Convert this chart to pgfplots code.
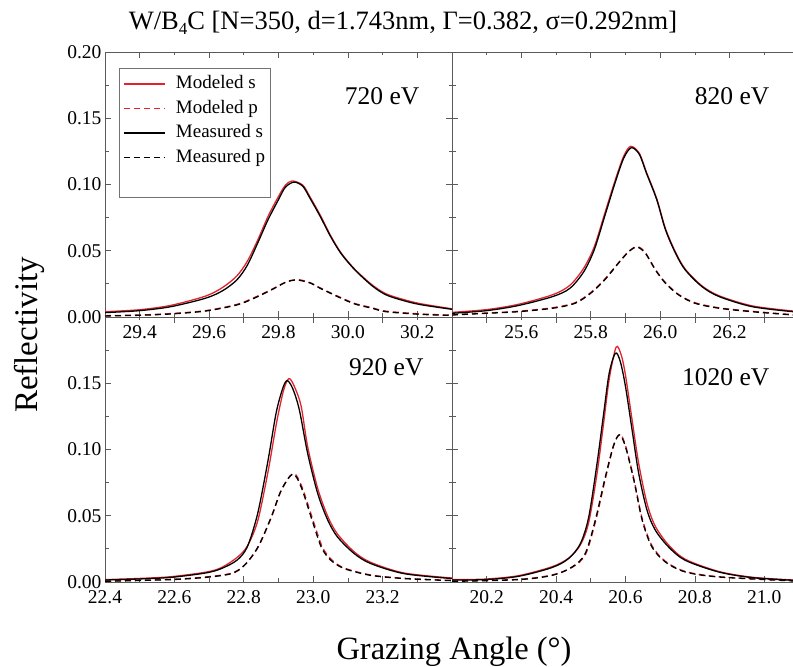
\documentclass[border=0pt]{standalone}
\usepackage{fontspec}
\setmainfont{Liberation Serif}
\usepackage{pgfplots}
\pgfplotsset{compat=1.18}

\definecolor{modred}{RGB}{226,35,45}
\definecolor{frame}{RGB}{90,90,90}

\tikzset{
  elabel/.style={anchor=base east, font=\fontsize{25.5}{25.5}\selectfont},
  modS/.style={color=modred, line width=1.3pt},
  modP/.style={color=modred, line width=1.3pt, dash pattern=on 6pt off 4pt},
  meaS/.style={color=black, line width=1.3pt},
  meaP/.style={color=black, line width=1.3pt, dash pattern=on 6pt off 4pt},
}

\pgfplotsset{
  panel/.style={
    scale only axis, height=265pt,
    ymin=0, ymax=0.2,
    tick align=inside,
    major tick length=6pt, minor tick length=3.5pt,
    axis line style={frame, line width=0.9pt},
    every tick/.style={frame, line width=0.8pt},
    tick label style={font=\fontsize{19.5}{19.5}\selectfont},
    /pgf/number format/assume math mode=true,
    x tick label style={yshift=-5pt, /pgf/number format/.cd, fixed, fixed zerofill, precision=1},
    y tick label style={/pgf/number format/.cd, fixed, fixed zerofill, precision=2},
    minor ytick={0.025,0.075,0.125,0.175},
  },
  leftpanel/.style={panel, width=347pt},
  rightpanel/.style={panel, width=341pt,
    axis x line*=box, axis y line*=left, tick align=inside,
    yticklabels={}},
}

\begin{document}
\begin{tikzpicture}
\useasboundingbox (0,0) rectangle (793pt,667pt);

% 720 eV
\begin{axis}[leftpanel, at={(105pt,350pt)}, anchor=south west,
  xmin=29.3, xmax=30.3,
  xtick={29.4,29.6,29.8,30.0,30.2}, minor xtick={29.5,29.7,29.9,30.1},
  ytick={0,0.05,0.1,0.15,0.2},
  legend cell align=left,
  legend image code/.code={\draw[#1] (0pt,0pt) -- (41pt,0pt);},
  legend style={at={(axis description cs:0.04,0.940)}, anchor=north west,
    draw=black!55, line width=0.6pt, font=\fontsize{19}{19}\selectfont,
    inner xsep=4pt, inner ysep=5pt, row sep=3pt, column sep=9pt,
    nodes={inner sep=1.5pt, text height=14pt, text depth=4.5pt}},
]
\addplot[modS, smooth] coordinates {(29.30,0.0040)(29.40,0.0055)(29.49,0.0088)(29.59,0.0158)(29.64,0.0225)(29.68,0.031)(29.71,0.042)(29.74,0.058)(29.77,0.076)(29.80,0.091)(29.82,0.0995)(29.84,0.1027)(29.87,0.0995)(29.89,0.091)(29.92,0.077)(29.95,0.0615)(29.98,0.0485)(30.02,0.036)(30.07,0.0242)(30.11,0.0175)(30.16,0.0132)(30.21,0.0100)(30.30,0.0062)};
\addlegendentry{Modeled s}
\addplot[modP, smooth] coordinates {(29.30,0.0010)(29.40,0.0015)(29.49,0.0026)(29.59,0.0048)(29.68,0.0095)(29.73,0.0146)(29.78,0.0208)(29.82,0.0262)(29.855,0.0282)(29.89,0.0260)(29.92,0.0220)(29.97,0.0158)(30.02,0.0102)(30.07,0.0070)(30.11,0.0044)(30.21,0.0023)(30.30,0.0014)};
\addlegendentry{Modeled p}
\addplot[meaS, smooth] coordinates {(29.30,0.0033)(29.40,0.0048)(29.49,0.0078)(29.59,0.0142)(29.64,0.020)(29.68,0.028)(29.71,0.039)(29.74,0.0558)(29.77,0.0735)(29.80,0.0886)(29.82,0.098)(29.845,0.1018)(29.87,0.0987)(29.89,0.090)(29.92,0.076)(29.95,0.0608)(29.98,0.048)(30.02,0.0356)(30.07,0.0235)(30.11,0.0167)(30.16,0.0124)(30.21,0.0093)(30.30,0.0058)};
\addlegendentry{Measured s}
\addplot[meaP, smooth] coordinates {(29.30,0.0008)(29.40,0.0013)(29.49,0.0023)(29.59,0.0045)(29.68,0.0091)(29.73,0.0142)(29.78,0.0205)(29.82,0.0261)(29.85,0.0280)(29.89,0.0258)(29.92,0.0217)(29.97,0.0154)(30.02,0.0098)(30.07,0.0066)(30.11,0.0040)(30.21,0.0020)(30.30,0.0012)};
\addlegendentry{Measured p}
\addlegendimage{empty legend}
\addlegendentry{}
\node[elabel] at (axis description cs:0.916,0.80) {720 eV};
\end{axis}

% 820 eV
\begin{axis}[rightpanel, at={(452pt,350pt)}, anchor=south west,
  xmin=25.4, xmax=26.3827,
  xtick={25.6,25.8,26.0,26.2}, minor xtick={25.5,25.7,25.9,26.1,26.3},
  ytick={0,0.05,0.1,0.15,0.2},
]
\addplot[modS, smooth] coordinates {(25.40,0.0035)(25.50,0.0056)(25.59,0.0095)(25.69,0.0168)(25.74,0.0240)(25.78,0.037)(25.81,0.053)(25.84,0.078)(25.87,0.1030)(25.895,0.1215)(25.915,0.1288)(25.94,0.1235)(25.96,0.1095)(25.99,0.0893)(26.015,0.0668)(26.044,0.049)(26.072,0.0362)(26.12,0.0236)(26.17,0.016)(26.265,0.0084)(26.383,0.0045)};
\addplot[modP, smooth] coordinates {(25.40,0.0018)(25.50,0.0030)(25.59,0.0043)(25.69,0.0070)(25.755,0.0108)(25.80,0.0185)(25.84,0.0285)(25.88,0.0410)(25.91,0.0497)(25.935,0.0530)(25.957,0.0486)(25.986,0.0360)(26.015,0.0260)(26.053,0.0170)(26.10,0.0108)(26.17,0.0069)(26.265,0.0043)(26.383,0.0017)};
\addplot[meaS, smooth] coordinates {(25.40,0.0028)(25.50,0.0048)(25.59,0.0086)(25.69,0.0154)(25.74,0.0217)(25.78,0.0343)(25.81,0.0508)(25.84,0.076)(25.87,0.1013)(25.895,0.120)(25.917,0.1278)(25.94,0.1227)(25.96,0.1088)(25.99,0.0886)(26.015,0.066)(26.044,0.0482)(26.072,0.0356)(26.12,0.023)(26.17,0.0154)(26.265,0.0078)(26.383,0.004)};
\addplot[meaP, smooth] coordinates {(25.40,0.0015)(25.50,0.0028)(25.59,0.0040)(25.69,0.0066)(25.755,0.0104)(25.80,0.018)(25.84,0.028)(25.88,0.0407)(25.91,0.0495)(25.933,0.0528)(25.957,0.0482)(25.986,0.0356)(26.015,0.0255)(26.053,0.0167)(26.10,0.0104)(26.17,0.0066)(26.265,0.004)(26.383,0.0015)};
\node[elabel] at (axis description cs:0.941,0.80) {820 eV};
\end{axis}

% 920 eV
\begin{axis}[leftpanel, at={(105pt,85pt)}, anchor=south west,
  xmin=22.4, xmax=23.4,
  xtick={22.4,22.6,22.8,23.0,23.2}, minor xtick={22.5,22.7,22.9,23.1,23.3},
  ytick={0,0.05,0.1,0.15}, extra y ticks={0.2}, extra y tick labels={},
]
\addplot[modS, smooth] coordinates {(22.40,0.0018)(22.50,0.0027)(22.59,0.0040)(22.69,0.0074)(22.735,0.0108)(22.78,0.0184)(22.81,0.0270)(22.84,0.046)(22.87,0.0835)(22.895,0.121)(22.915,0.145)(22.930,0.1535)(22.945,0.148)(22.965,0.133)(22.984,0.1022)(23.013,0.0706)(23.042,0.0495)(23.07,0.0362)(23.118,0.0228)(23.166,0.0148)(23.262,0.0068)(23.40,0.0030)};
\addplot[modP, smooth] coordinates {(22.40,0.0007)(22.59,0.0020)(22.69,0.0038)(22.764,0.0066)(22.802,0.0128)(22.841,0.0262)(22.879,0.0485)(22.908,0.0690)(22.943,0.0820)(22.967,0.0722)(22.996,0.0495)(23.025,0.0272)(23.053,0.0168)(23.09,0.0105)(23.166,0.0053)(23.262,0.0028)(23.40,0.0012)};
\addplot[meaS, smooth] coordinates {(22.40,0.0015)(22.50,0.0023)(22.59,0.0035)(22.69,0.0068)(22.735,0.0101)(22.78,0.0164)(22.81,0.0265)(22.84,0.0517)(22.87,0.092)(22.893,0.1274)(22.912,0.146)(22.925,0.152)(22.941,0.146)(22.96,0.130)(22.984,0.0971)(23.013,0.0668)(23.042,0.0467)(23.07,0.034)(23.118,0.0215)(23.166,0.0139)(23.262,0.0063)(23.40,0.0026)};
\addplot[meaP, smooth] coordinates {(22.40,0.0005)(22.59,0.0018)(22.69,0.0035)(22.764,0.0063)(22.802,0.0126)(22.841,0.0265)(22.879,0.049)(22.908,0.0694)(22.941,0.0815)(22.965,0.0719)(22.994,0.049)(23.023,0.0265)(23.051,0.0164)(23.09,0.0101)(23.166,0.005)(23.262,0.0026)(23.40,0.001)};
\node[elabel] at (axis description cs:0.928,0.78) {920 eV};
\end{axis}

% 1020 eV
\begin{axis}[rightpanel, at={(452pt,85pt)}, anchor=south west,
  xmin=20.1, xmax=21.0827,
  xtick={20.2,20.4,20.6,20.8,21.0}, minor xtick={20.3,20.5,20.7,20.9},
  ytick={0,0.05,0.1,0.15,0.2},
]
\addplot[modS, smooth] coordinates {(20.10,0.0018)(20.196,0.0022)(20.292,0.0048)(20.388,0.0115)(20.436,0.0180)(20.47,0.028)(20.494,0.045)(20.518,0.082)(20.537,0.120)(20.553,0.153)(20.573,0.1773)(20.588,0.171)(20.60,0.156)(20.619,0.1223)(20.638,0.0895)(20.662,0.0593)(20.686,0.042)(20.724,0.028)(20.772,0.0172)(20.868,0.0080)(20.965,0.0036)(21.083,0.0015)};
\addplot[modP, smooth] coordinates {(20.10,0.0007)(20.292,0.0020)(20.388,0.0053)(20.446,0.0110)(20.484,0.0205)(20.513,0.0450)(20.542,0.0780)(20.566,0.1030)(20.584,0.1115)(20.60,0.1030)(20.624,0.0780)(20.648,0.0480)(20.676,0.0275)(20.715,0.0156)(20.772,0.0080)(20.868,0.0040)(21.083,0.0010)};
\addplot[meaS, smooth] coordinates {(20.10,0.0015)(20.196,0.0018)(20.292,0.0043)(20.388,0.0109)(20.436,0.0177)(20.47,0.029)(20.494,0.049)(20.518,0.0895)(20.537,0.127)(20.553,0.1576)(20.571,0.1727)(20.585,0.1664)(20.60,0.1475)(20.619,0.1147)(20.638,0.082)(20.662,0.0542)(20.686,0.0391)(20.724,0.0265)(20.772,0.0164)(20.868,0.0076)(20.965,0.0033)(21.083,0.0013)};
\addplot[meaP, smooth] coordinates {(20.10,0.0005)(20.292,0.0018)(20.388,0.005)(20.446,0.0113)(20.484,0.0215)(20.513,0.0467)(20.542,0.0794)(20.566,0.1034)(20.583,0.111)(20.60,0.102)(20.624,0.0769)(20.648,0.0467)(20.676,0.0265)(20.715,0.0151)(20.772,0.0076)(20.868,0.0038)(21.083,0.0008)};
\node[elabel] at (axis description cs:0.941,0.742) {1020 eV};
\end{axis}

\node[anchor=base, font=\fontsize{26.5}{26.5}\selectfont] at (403pt,637pt)
  {W/B\raisebox{-0.35ex}{\fontsize{17}{17}\selectfont 4}C [N=350, d=1.743nm, Γ=0.382, σ=0.292nm]};
\node[anchor=base, rotate=90, font=\fontsize{33}{33}\selectfont] at (37pt,332pt) {Reflectivity};
\node[anchor=base, font=\fontsize{32.5}{32.5}\selectfont] at (454pt,7pt) {Grazing Angle (°)};
\end{tikzpicture}
\end{document}
